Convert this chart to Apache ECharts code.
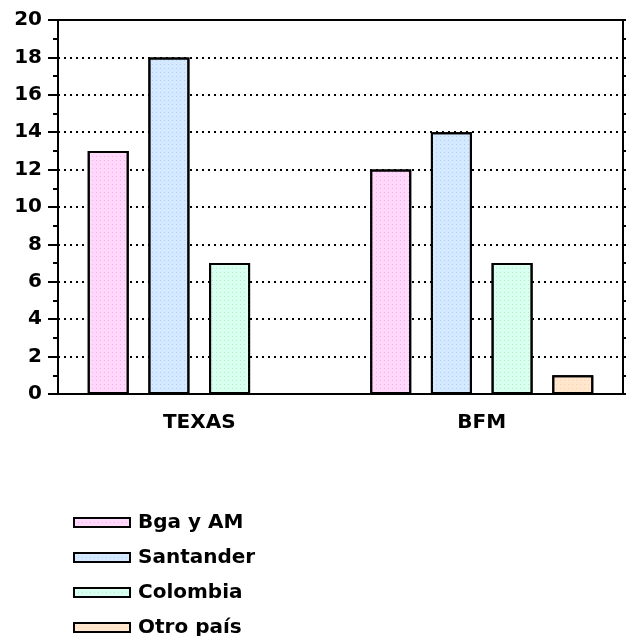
<!DOCTYPE html>
<html><head><meta charset="utf-8">
<script src="https://cdn.jsdelivr.net/npm/echarts@6/dist/echarts.min.js"></script>
<style>html,body{margin:0;padding:0;background:#fff}#c{width:626px;height:636px}</style>
</head><body><div id="c"></div>
<script>
const categories = ['TEXAS', 'BFM'];
const seriesNames = ['Bga y AM', 'Santander', 'Colombia', 'Otro país'];
const bgaYAm = [13, 12];
const santander = [18, 14];
const colombia = [7, 7];
const otroPais = [0, 1];
const yTicks = [0, 2, 4, 6, 8, 10, 12, 14, 16, 18, 20];

const fills = ['#ffd8fc', '#d4e9ff', '#d8fff0', '#ffe6cc'];
const dots = ['#f2b0ec', '#b0d0f8', '#b0f2bc', '#f8d4a8'];
const values = [bgaYAm, santander, colombia, otroPais];
const font = '"DejaVu Sans", Verdana, sans-serif';

const chart = echarts.init(document.getElementById('c'), null, {renderer: 'canvas'});
chart.setOption({
  animation: false,
  backgroundColor: '#fff',
  grid: {left: 58, right: 3, top: 20, bottom: 242, show: true, borderColor: '#000', borderWidth: 2, backgroundColor: 'transparent'},
  legend: {
    orient: 'vertical', left: 73, top: 512, height: 200, padding: 0, itemWidth: 56, itemHeight: 9, itemGap: 14,
    icon: 'rect',
    textStyle: {fontFamily: font, fontWeight: 'bold', fontSize: 20, lineHeight: 21, color: '#000', padding: [0,0,0,3]},
    data: seriesNames
  },
  xAxis: {
    type: 'category', data: categories,
    axisLine: {lineStyle: {color: '#000', width: 2}},
    axisTick: {alignWithLabel: true, length: 6, lineStyle: {color: '#000', width: 2}},
    axisLabel: {fontFamily: font, fontWeight: 'bold', fontSize: 20, color: '#000', margin: 19}
  },
  yAxis: [{
    type: 'value', min: yTicks[0], max: yTicks[yTicks.length-1], interval: 2,
    axisLine: {show: true, lineStyle: {color: '#000', width: 2}},
    axisTick: {show: true, length: 10, lineStyle: {color: '#000', width: 2}},
    minorTick: {show: true, splitNumber: 2, length: 5, lineStyle: {color: '#000', width: 2}},
    splitLine: {show: true, lineStyle: {color: '#000', type: [2, 4], width: 2}},
    axisLabel: {fontFamily: font, fontWeight: 'bold', fontSize: 20, color: '#000', margin: 16}
  }, {
    type: 'value', position: 'right', min: yTicks[0], max: yTicks[yTicks.length-1], interval: 2,
    axisLine: {show: true, lineStyle: {color: '#000', width: 2}},
    axisTick: {show: true, length: 10, lineStyle: {color: '#000', width: 2}},
    minorTick: {show: true, splitNumber: 2, length: 5, lineStyle: {color: '#000', width: 2}},
    splitLine: {show: false},
    axisLabel: {show: false}
  }],
  series: seriesNames.map((n, i) => ({
    name: n, type: 'bar', data: values[i], barWidth: 41, barGap: '48%',
    itemStyle: {
      color: fills[i], borderColor: '#000', borderWidth: 2,
      decal: {symbol: 'rect', symbolSize: 1, color: dots[i], dashArrayX: [1, 3], dashArrayY: [1, 3]}
    }
  }))
});
</script></body></html>
